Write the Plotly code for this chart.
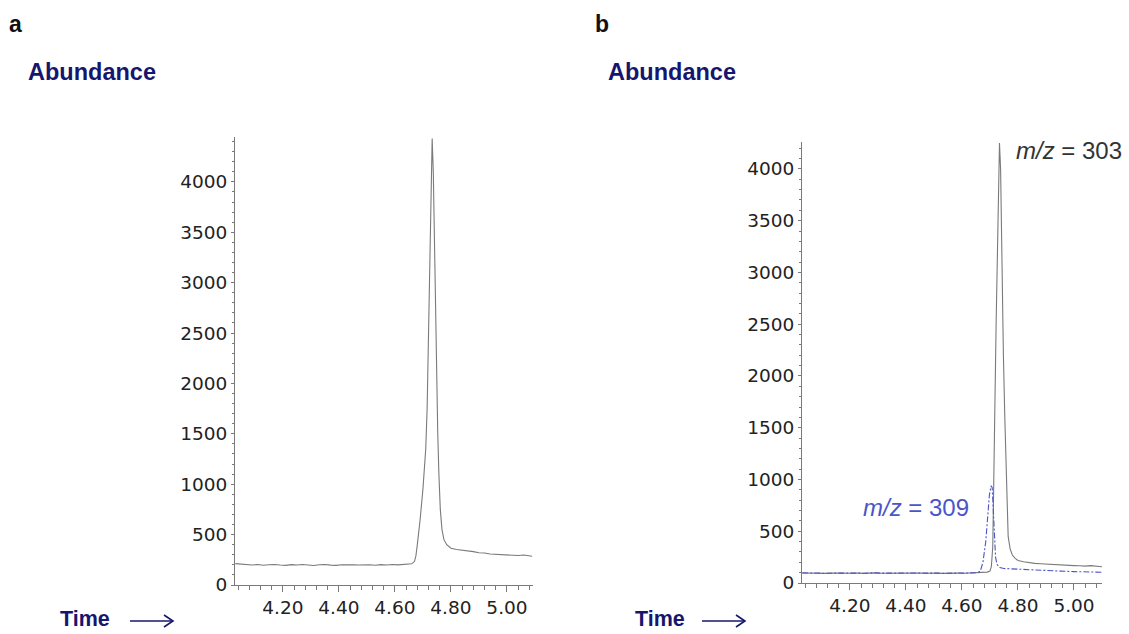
import plotly.graph_objects as go

W, H = 1129, 634

# ---- Data ----
time_a = [4.03, 4.05, 4.07, 4.09, 4.11, 4.13, 4.15, 4.17, 4.19, 4.21, 4.23, 4.25, 4.27, 4.29,
          4.31, 4.33, 4.35, 4.37, 4.39, 4.41, 4.43, 4.45, 4.47, 4.49, 4.51, 4.53, 4.55, 4.57,
          4.59, 4.61, 4.63, 4.65, 4.66, 4.67, 4.675, 4.68, 4.685, 4.69, 4.70, 4.71, 4.715,
          4.72, 4.725, 4.73, 4.733, 4.737, 4.742, 4.747, 4.75, 4.753, 4.757, 4.762, 4.768,
          4.775, 4.785, 4.80, 4.82, 4.84, 4.86, 4.88, 4.90, 4.92, 4.94, 4.96, 4.98, 5.00,
          5.02, 5.04, 5.06, 5.08, 5.09]
abund_a = [212, 206, 201, 198, 203, 196, 201, 204, 198, 195, 202, 199, 204, 197,
           194, 201, 203, 197, 195, 201, 204, 200, 198, 203, 201, 196, 202, 198,
           204, 200, 203, 205, 210, 235, 290, 400, 520, 650, 950, 1350, 1750,
           2600, 3500, 4300, 4430, 4100, 3200, 2300, 1800, 1500, 1100, 750, 550,
           450, 400, 365, 352, 346, 334, 331, 320, 318, 308, 306, 298, 303,
           295, 292, 298, 287, 285]

time_303 = [4.03, 4.05, 4.07, 4.09, 4.11, 4.13, 4.15, 4.17, 4.19, 4.21, 4.23, 4.25, 4.27,
            4.29, 4.31, 4.33, 4.35, 4.37, 4.39, 4.41, 4.43, 4.45, 4.47, 4.49, 4.51, 4.53,
            4.55, 4.57, 4.59, 4.61, 4.63, 4.65, 4.67, 4.69, 4.70, 4.705, 4.71, 4.714,
            4.717, 4.722, 4.728, 4.734, 4.738, 4.742, 4.748, 4.753, 4.757, 4.76, 4.765,
            4.772, 4.78, 4.79, 4.80, 4.82, 4.84, 4.86, 4.88, 4.90, 4.92, 4.94, 4.96,
            4.98, 5.00, 5.02, 5.04, 5.06, 5.08, 5.10]
abund_303 = [96, 94, 97, 95, 93, 96, 98, 95, 94, 97, 95, 93, 96,
             98, 94, 95, 97, 96, 93, 95, 98, 96, 94, 97, 95, 93,
             96, 98, 95, 94, 97, 98, 100, 105, 115, 160, 350, 900,
             1600, 2500, 3500, 4250, 4000, 3200, 2200, 1600, 1200, 700, 450,
             330, 270, 238, 218, 205, 196, 190, 186, 182, 178, 176, 172,
             170, 168, 166, 163, 168, 160, 157]

time_309 = [4.03, 4.05, 4.07, 4.09, 4.11, 4.13, 4.15, 4.17, 4.19, 4.21, 4.23, 4.25, 4.27,
            4.29, 4.31, 4.33, 4.35, 4.37, 4.39, 4.41, 4.43, 4.45, 4.47, 4.49, 4.51, 4.53,
            4.55, 4.57, 4.59, 4.61, 4.63, 4.65, 4.665, 4.675, 4.685, 4.692, 4.698,
            4.704, 4.708, 4.712, 4.716, 4.72, 4.725, 4.735, 4.75, 4.80, 4.85, 4.90,
            4.95, 5.00, 5.05, 5.10]
abund_309 = [98, 95, 99, 96, 94, 97, 100, 96, 95, 98, 96, 94, 97,
             99, 95, 96, 98, 97, 94, 96, 99, 97, 95, 98, 96, 94,
             97, 99, 96, 95, 98, 100, 110, 200, 400, 650, 850,
             940, 920, 700, 420, 250, 180, 150, 140, 132, 125, 120,
             115, 110, 108, 104]

y_ticks = [0, 500, 1000, 1500, 2000, 2500, 3000, 3500, 4000]
x_ticks = [4.20, 4.40, 4.60, 4.80, 5.00]
x_tick_text = ["4.20", "4.40", "4.60", "4.80", "5.00"]

# ---- Layout helpers ----
def px_x(p):
    return p / W

def px_y(p):
    return 1 - p / H

LINE_GRAY = "#7a7a7a"
NAVY = "#16166e"
BLUE = "#4a55c8"

fig = go.Figure()
fig.add_trace(go.Scatter(x=time_a, y=abund_a, mode="lines",
                         line=dict(color=LINE_GRAY, width=1.1),
                         xaxis="x", yaxis="y", showlegend=False))
fig.add_trace(go.Scatter(x=time_303, y=abund_303, mode="lines",
                         line=dict(color=LINE_GRAY, width=1.1),
                         xaxis="x2", yaxis="y2", showlegend=False))
fig.add_trace(go.Scatter(x=time_309, y=abund_309, mode="lines",
                         line=dict(color=BLUE, width=1.1, dash="6px,2px,2px,2px"),
                         xaxis="x2", yaxis="y2", showlegend=False))

tickfont = dict(family="DejaVu Sans", size=18.5, color="#222")

def xaxis(dom, rng, anchor):
    return dict(domain=dom, range=rng, anchor=anchor, showgrid=False, zeroline=False,
                automargin=False,
                showline=True, linecolor=LINE_GRAY, linewidth=1,
                ticks="outside", ticklen=6, tickcolor=LINE_GRAY, tickwidth=1,
                tickvals=x_ticks, ticktext=x_tick_text, tickfont=tickfont,
                minor=dict(dtick=0.04, tick0=4.2, ticks="outside", ticklen=4,
                           tickcolor=LINE_GRAY, showgrid=False))

def yaxis(dom, rng, anchor):
    return dict(domain=dom, range=rng, anchor=anchor, showgrid=False, zeroline=False,
                automargin=False,
                showline=True, linecolor=LINE_GRAY, linewidth=1,
                ticks="outside", ticklen=3, tickcolor=LINE_GRAY, tickwidth=1,
                tickvals=y_ticks, tickfont=tickfont, ticklabelstandoff=0,
                minor=dict(dtick=100, ticks="outside", ticklen=2,
                           tickcolor=LINE_GRAY, showgrid=False))

fig.update_layout(
    width=W, height=H, autosize=False,
    margin=dict(l=0, r=0, t=0, b=0, pad=0),
    paper_bgcolor="white", plot_bgcolor="white",
    xaxis=xaxis([px_x(235), px_x(533)], [4.029, 5.093], "y"),
    yaxis=yaxis([px_y(585), px_y(137)], [0, 4445], "x"),
    xaxis2=xaxis([px_x(802), px_x(1102)], [4.029, 5.10], "y2"),
    yaxis2=yaxis([px_y(583), px_y(142)], [0, 4260], "x2"),
)

ann = []
def text(x, y, s, size, color, bold=False, xanchor="left"):
    ann.append(dict(x=px_x(x), y=px_y(y), xref="paper", yref="paper", text=(f"<b>{s}</b>" if bold else s),
                    showarrow=False, xanchor=xanchor, yanchor="middle", borderpad=0,
                    font=dict(family="Liberation Sans", size=size, color=color)))

text(8, 24, "a", 23, "#111", bold=True)
text(594, 24, "b", 23, "#111", bold=True)
text(27, 72, "Abundance", 23.5, NAVY, bold=True)
text(607, 72, "Abundance", 23.5, NAVY, bold=True)
text(59, 619, "Time", 21.5, NAVY, bold=True)
text(634, 619, "Time", 21.5, NAVY, bold=True)
text(1015, 151, "<i>m/z</i> = 303", 24, "#333")
text(862, 507, "<i>m/z</i> = 309", 24, BLUE)
fig.update_layout(annotations=ann)

# Arrows next to "Time"
shapes = []
for x0, x1 in [(130, 173), (702, 745)]:
    yc = 621
    shapes.append(dict(type="line", xref="paper", yref="paper",
                       x0=px_x(x0), x1=px_x(x1), y0=px_y(yc), y1=px_y(yc),
                       line=dict(color=NAVY, width=1.6)))
    shapes.append(dict(type="path", xref="paper", yref="paper",
                       path=f"M {px_x(x1-9)} {px_y(yc-6)} L {px_x(x1)} {px_y(yc)} L {px_x(x1-9)} {px_y(yc+6)}",
                       line=dict(color=NAVY, width=1.6)))
fig.update_layout(shapes=shapes)

fig.write_html("out.html")
